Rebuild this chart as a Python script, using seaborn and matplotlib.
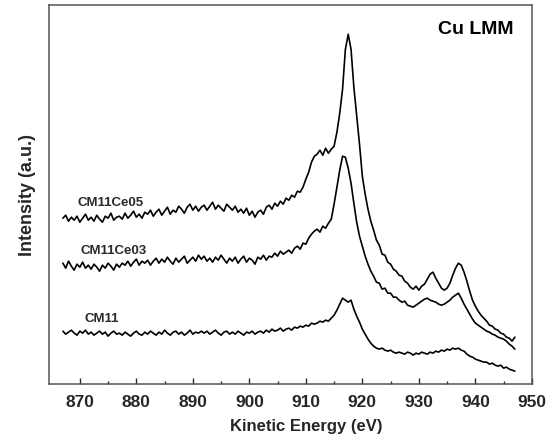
import numpy as np
import pandas as pd
import matplotlib
matplotlib.use("Agg")
import matplotlib.pyplot as plt
import seaborn as sns
from matplotlib.ticker import MultipleLocator, FixedLocator

# kinetic energy grid (eV), 0.5 eV steps
energy = np.arange(867.0, 947.5, 0.5)

# intensities (a.u., offset spectra)
cm11ce05 = [
    166, 169, 163, 167, 164, 168, 162, 166, 170, 164,
    167, 163, 169, 165, 162, 168, 166, 171, 164, 167,
    168, 165, 171, 166, 169, 173, 167, 170, 166, 172,
    170, 174, 168, 172, 175, 169, 173, 177, 170, 174,
    172, 178, 175, 171, 177, 180, 174, 178, 173, 177,
    179, 174, 178, 182, 175, 179, 176, 173, 180, 177,
    174, 178, 172, 175, 171, 176, 169, 173, 167, 172,
    174, 170, 177, 179, 175, 181, 178, 183, 180, 186,
    184, 189, 187, 193, 192, 197, 205, 212, 222, 228,
    230, 234, 229, 236, 231, 235, 238, 252, 271, 295,
    335, 350, 335, 297, 268, 240, 208, 190, 175, 163,
    154, 144, 139, 130, 129, 122, 120, 115, 113, 109,
    108, 103, 101, 97, 95, 98, 94, 98, 100, 105,
    110, 112, 106, 101, 96, 94, 96, 101, 109, 116,
    121, 119, 112, 103, 93, 84, 78, 73, 69, 66,
    63, 59, 58, 55, 54, 51, 50, 47, 46, 43,
    47,
]
cm11ce03 = [
    121, 116, 123, 118, 114, 120, 117, 122, 116, 119,
    115, 120, 117, 113, 119, 116, 121, 118, 114, 120,
    117, 121, 119, 123, 118, 122, 125, 119, 123, 121,
    124, 119, 123, 126, 121, 125, 122, 127, 123, 120,
    126, 122, 125, 128, 121, 124, 127, 123, 129, 125,
    128, 123, 126, 122, 127, 124, 129, 125, 121, 126,
    123, 127, 121, 125, 128, 122, 126, 124, 120, 127,
    125, 129, 124, 128, 127, 131, 128, 133, 130, 132,
    134, 131, 136, 138, 135, 141, 140, 146, 150, 153,
    155, 152, 158, 156, 161, 165, 180, 197, 214, 228,
    227, 216, 201, 181, 162, 148, 138, 128, 120, 113,
    108, 102, 101, 95, 96, 91, 91, 87, 87, 84,
    82, 83, 79, 78, 77, 79, 81, 83, 85, 86,
    84, 83, 82, 80, 79, 80, 82, 84, 87, 89,
    91, 86, 80, 75, 70, 65, 61, 59, 57, 55,
    53, 52, 50, 49, 47, 46, 45, 43, 40, 38,
    35,
]
cm11 = [
    53, 50, 52, 54, 51, 49, 53, 51, 54, 50,
    52, 49, 51, 53, 50, 52, 48, 51, 53, 50,
    51, 49, 52, 50, 48, 51, 53, 50, 49, 52,
    50, 53, 51, 49, 52, 50, 54, 51, 49, 52,
    53, 50, 52, 49, 51, 54, 50, 52, 51, 53,
    51, 53, 50, 52, 54, 51, 49, 52, 53, 50,
    52, 50, 53, 51, 49, 52, 51, 53, 50, 52,
    53, 51, 54, 52, 55, 53, 54, 56, 53, 55,
    56, 54, 57, 56, 58, 57, 59, 58, 61, 60,
    61, 63, 62, 64, 63, 66, 69, 74, 80, 86,
    84, 82, 84, 75, 68, 62, 55, 50, 45, 41,
    38, 36, 35, 36, 34, 33, 34, 32, 31, 32,
    31, 30, 32, 31, 29, 31, 30, 32, 31, 30,
    32, 31, 33, 32, 34, 33, 35, 34, 36, 35,
    36, 34, 33, 30, 28, 27, 25, 24, 23, 22,
    22, 20, 21, 19, 18, 19, 16, 17, 15, 14,
    13,
]
sample_names = ["CM11Ce05", "CM11Ce03", "CM11"]
label_pos = [(869.6, 181), (870.2, 133), (870.8, 65)]

df = pd.DataFrame({"energy": energy, "CM11Ce05": cm11ce05,
                   "CM11Ce03": cm11ce03, "CM11": cm11})
long = df.melt(id_vars="energy", var_name="sample", value_name="intensity")

sns.set_style("white")
plt.rcParams["font.family"] = ["Liberation Sans", "DejaVu Sans"]
plt.rcParams["font.weight"] = "bold"

fig = plt.figure(figsize=(5.54, 4.40), dpi=100)
ax = fig.add_axes([0.088, 0.127, 0.872, 0.861])

sns.lineplot(data=long, x="energy", y="intensity", units="sample",
             estimator=None, color="#000000", linewidth=1.2, ax=ax)

for name, (lx, ly) in zip(sample_names, label_pos):
    ax.text(lx, ly, name, fontsize=9.5, fontweight="bold", color="#2a2a2a",
            ha="left", va="center")

ax.text(0.884, 0.937, "Cu LMM", transform=ax.transAxes, fontsize=14,
        fontweight="bold", ha="center", va="center", color="#000000")

ax.set_xlim(864.5, 950)
ax.set_ylim(0, 379)
ax.xaxis.set_major_locator(MultipleLocator(10))
ax.xaxis.set_minor_locator(FixedLocator(np.arange(875, 950, 10)))
ax.tick_params(axis="x", which="major", direction="in", length=4.5,
               width=1, labelsize=12.5, pad=8, bottom=True)
ax.tick_params(axis="x", which="minor", direction="in", length=2.5,
               width=1, bottom=True)
ax.set_yticks([])
for lbl in ax.get_xticklabels():
    lbl.set_fontweight("bold")

for sp in ax.spines.values():
    sp.set_color("#555555")
    sp.set_linewidth(1.1)

ax.set_xlabel("Kinetic Energy (eV)", fontsize=12, fontweight="bold")
ax.xaxis.set_label_coords(0.534, -0.092)
ax.set_ylabel("Intensity (a.u.)", fontsize=13, fontweight="bold", labelpad=9)

fig.savefig("out.png", dpi=100)
